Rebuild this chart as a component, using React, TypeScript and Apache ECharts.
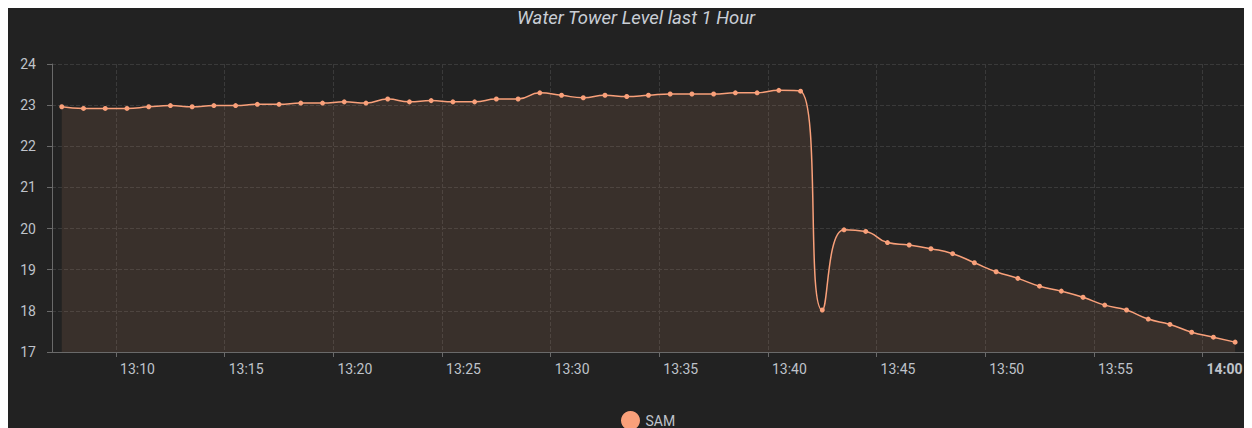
import React, { useEffect, useRef } from "react";
import * as echarts from "echarts";

const TITLE = "Water Tower Level last 1 Hour";
const SERIES_NAME = "SAM";

const TIMES = [
  "13:07:30", "13:08:30", "13:09:30", "13:10:30", "13:11:30", "13:12:30", "13:13:30", "13:14:30",
  "13:15:30", "13:16:30", "13:17:30", "13:18:30", "13:19:30", "13:20:30", "13:21:30", "13:22:30",
  "13:23:30", "13:24:30", "13:25:30", "13:26:30", "13:27:30", "13:28:30", "13:29:30", "13:30:30",
  "13:31:30", "13:32:30", "13:33:30", "13:34:30", "13:35:30", "13:36:30", "13:37:30", "13:38:30",
  "13:39:30", "13:40:30", "13:41:30", "13:42:30", "13:43:30", "13:44:30", "13:45:30", "13:46:30",
  "13:47:30", "13:48:30", "13:49:30", "13:50:30", "13:51:30", "13:52:30", "13:53:30", "13:54:30",
  "13:55:30", "13:56:30", "13:57:30", "13:58:30", "13:59:30", "14:00:30", "14:01:30",
];

const LEVELS = [
  22.96, 22.92, 22.92, 22.92, 22.96, 22.99, 22.96, 22.99,
  22.99, 23.02, 23.02, 23.05, 23.05, 23.08, 23.05, 23.15,
  23.08, 23.11, 23.08, 23.08, 23.15, 23.15, 23.30, 23.24,
  23.18, 23.24, 23.21, 23.24, 23.27, 23.27, 23.27, 23.30,
  23.30, 23.36, 23.34, 18.02, 19.97, 19.93, 19.66, 19.60,
  19.51, 19.39, 19.17, 18.95, 18.79, 18.60, 18.48, 18.33,
  18.14, 18.02, 17.80, 17.67, 17.48, 17.36, 17.24,
];

const X_TICKS = [
  "13:10:00", "13:15:00", "13:20:00", "13:25:00", "13:30:00", "13:35:00",
  "13:40:00", "13:45:00", "13:50:00", "13:55:00", "14:00:00",
];

const X_MIN = "13:07:03";
const X_MAX = "14:02:00";
const Y_MIN = 17;
const Y_MAX = 24;
const Y_STEP = 1;

// seconds since midnight
function toSec(hms: string): number {
  const [h, m, s] = hms.split(":").map(Number);
  return h * 3600 + m * 60 + s;
}

const pad = (n: number) => (n < 10 ? "0" + n : "" + n);

export default function App() {
  const ref = useRef<HTMLDivElement>(null);

  useEffect(() => {
    document.documentElement.style.overflow = "hidden";
    document.body.style.overflow = "hidden";
    if (!ref.current) return;
    const chart = echarts.init(ref.current, undefined, { renderer: "svg" });
    const lineColor = "#F9A07A";
    const labelColor = "#bfc3ca";
    const font = "Roboto, 'Noto Sans', sans-serif";
    const tickValues = X_TICKS.map(toSec);

    chart.setOption({
      animation: false,
      backgroundColor: "#222222",
      title: {
        text: TITLE,
        left: 509,
        top: 0,
        padding: 0,
        textStyle: {
          color: "#c9ced6",
          fontStyle: "italic",
          fontWeight: "normal",
          fontSize: 18.5,
          fontFamily: font,
        },
      },
      legend: {
        data: [SERIES_NAME],
        left: 608,
        top: 398,
        icon: "circle",
        itemWidth: 20,
        itemHeight: 19,
        itemGap: 10,
        textStyle: { color: labelColor, fontSize: 14, fontFamily: font },
      },
      grid: {
        left: 44,
        right: 6,
        top: 56,
        bottom: 76,
        containLabel: false,
        outerBoundsMode: "none",
      },
      xAxis: {
        type: "value",
        min: toSec(X_MIN),
        max: toSec(X_MAX),
        axisLine: { show: true, lineStyle: { color: "#6a6a6a" } },
        axisTick: {
          show: true,
          length: 5,
          customValues: tickValues,
          lineStyle: { color: "#6a6a6a" },
        },
        splitLine: { show: true, lineStyle: { color: "#3a3a3a", type: "dashed" } },
        axisLabel: {
          customValues: tickValues,
          color: labelColor,
          fontSize: 14,
          fontFamily: font,
          margin: 10,
          align: "left",
          padding: [0, 0, 0, 4],
          formatter: (v: number) => {
            const h = Math.floor(v / 3600);
            const m = Math.floor((v % 3600) / 60);
            const s = pad(h) + ":" + pad(m);
            return m === 0 ? "{b|" + s + "}" : "{n|" + s + "}";
          },
          rich: {
            n: { color: labelColor, fontSize: 14, fontFamily: font },
            b: { color: labelColor, fontSize: 14, fontFamily: font, fontWeight: "bold" },
          },
        },
      },
      yAxis: {
        type: "value",
        min: Y_MIN,
        max: Y_MAX,
        interval: Y_STEP,
        axisLine: { show: true, lineStyle: { color: "#6a6a6a" } },
        axisTick: { show: true, length: 5, lineStyle: { color: "#6a6a6a" } },
        splitLine: { show: true, lineStyle: { color: "#3a3a3a", type: "dashed" } },
        axisLabel: { color: labelColor, fontSize: 14, fontFamily: font, margin: 16 },
      },
      series: [
        {
          name: SERIES_NAME,
          type: "line",
          smooth: true,
          symbol: "circle",
          symbolSize: 5,
          showSymbol: true,
          itemStyle: { color: lineColor },
          lineStyle: { color: lineColor, width: 1.5 },
          areaStyle: { color: lineColor, opacity: 0.11 },
          data: TIMES.map((t, i) => [toSec(t), LEVELS[i]]),
        },
      ],
    });

    return () => chart.dispose();
  }, []);

  return <div ref={ref} style={{ width: 1244, height: 420 }} />;
}
